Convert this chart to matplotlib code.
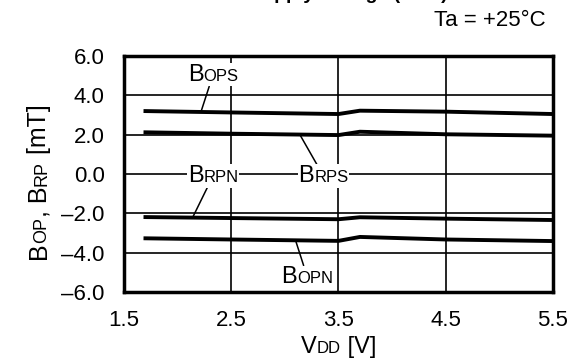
import matplotlib.pyplot as plt
from matplotlib.offsetbox import TextArea, HPacker, AnnotationBbox
from matplotlib.transforms import IdentityTransform

plt.rcParams['font.family'] = ['Liberation Sans', 'DejaVu Sans']

vdd = [1.7, 2.5, 3.5, 3.7, 4.5, 5.5]
bops = [3.20, 3.13, 3.05, 3.22, 3.17, 3.05]
brps = [2.12, 2.05, 1.98, 2.15, 2.02, 1.95]
brpn = [-2.19, -2.24, -2.30, -2.20, -2.27, -2.34]
bopn = [-3.27, -3.33, -3.40, -3.20, -3.33, -3.41]

xticks = [1.5, 2.5, 3.5, 4.5, 5.5]
yticks = [-6, -4, -2, 0, 2, 4, 6]
ytick_labels = ['\u20136.0', '\u20134.0', '\u20132.0', '0.0', '2.0', '4.0', '6.0']

# label name, subscript, point on curve, label position
labels = [
    ('B', 'OPS', (2.22, 3.20), (2.33, 5.05)),
    ('B', 'RPN', (2.14, -2.21), (2.33, -0.10)),
    ('B', 'RPS', (3.14, 2.00), (3.36, -0.10)),
    ('B', 'OPN', (3.10, -3.38), (3.21, -5.25)),
]

BIG = 17
SMALL = 12


def sc_text(parts):
    areas = [TextArea(s, textprops=dict(fontsize=BIG if big else SMALL))
             for s, big in parts]
    return HPacker(children=areas, align='baseline', pad=0, sep=0)


def vertical_rich(fig, x_px, yc_px, parts, big=18, small=13):
    # rotated label made of pieces, stacked bottom to top
    r = fig.canvas.get_renderer()
    texts = []
    for s, is_big in parts:
        t = fig.text(0, 0, s, rotation=90, rotation_mode='anchor', ha='left',
                     va='baseline', fontsize=big if is_big else small,
                     transform=IdentityTransform())
        texts.append(t)
    heights = [t.get_window_extent(r).height for t in texts]
    y = yc_px - sum(heights) / 2
    for t, h in zip(texts, heights):
        t.set_position((x_px, y))
        y += h


fig = plt.figure(figsize=(5.8, 3.6), dpi=100)
ax = fig.add_axes([0.2138, 0.1889, 0.7396, 0.6555])

for ys in (bops, brps, brpn, bopn):
    ax.plot(vdd, ys, color='black', lw=2.8, solid_joinstyle='round', zorder=3)

ax.set_xlim(1.5, 5.5)
ax.set_ylim(-6, 6)
ax.set_xticks(xticks)
ax.set_xticklabels([f'{v:.1f}' for v in xticks])
ax.set_yticks(yticks)
ax.set_yticklabels(ytick_labels)
ax.tick_params(length=0, labelsize=16)
ax.tick_params(axis='x', pad=13)
ax.tick_params(axis='y', pad=14)
ax.grid(True, color='black', lw=1.2)
for sp in ax.spines.values():
    sp.set_linewidth(2.5)

for big, small, pt, pos in labels:
    box = sc_text([(big, True), (small, False)])
    ab = AnnotationBbox(box, pt, xybox=pos, xycoords='data', boxcoords='data',
                        frameon=True, pad=0.05,
                        bboxprops=dict(facecolor='white', edgecolor='none'),
                        arrowprops=dict(arrowstyle='-', lw=1.1, color='black',
                                        shrinkA=0, shrinkB=0),
                        zorder=4)
    ax.add_artist(ab)

# x label
xl = sc_text([('V', True), ('DD', False), (' [V]', True)])
ax.add_artist(AnnotationBbox(xl, (0.5, -0.235), xycoords='axes fraction',
                             frameon=False, annotation_clip=False))

# y label
vertical_rich(fig, 46, 178, [('B', True), ('OP', False), (', B', True),
                             ('RP', False), (' [mT]', True)])

fig.text(0.94, 0.944, 'Ta = +25\u00b0C', ha='right', va='center', fontsize=16)
fig.text(0.6, 1.004, 'Supply Voltage (VDD)', ha='center', va='baseline',
         fontsize=14, fontweight='bold')

fig.savefig('out.png', dpi=100)
